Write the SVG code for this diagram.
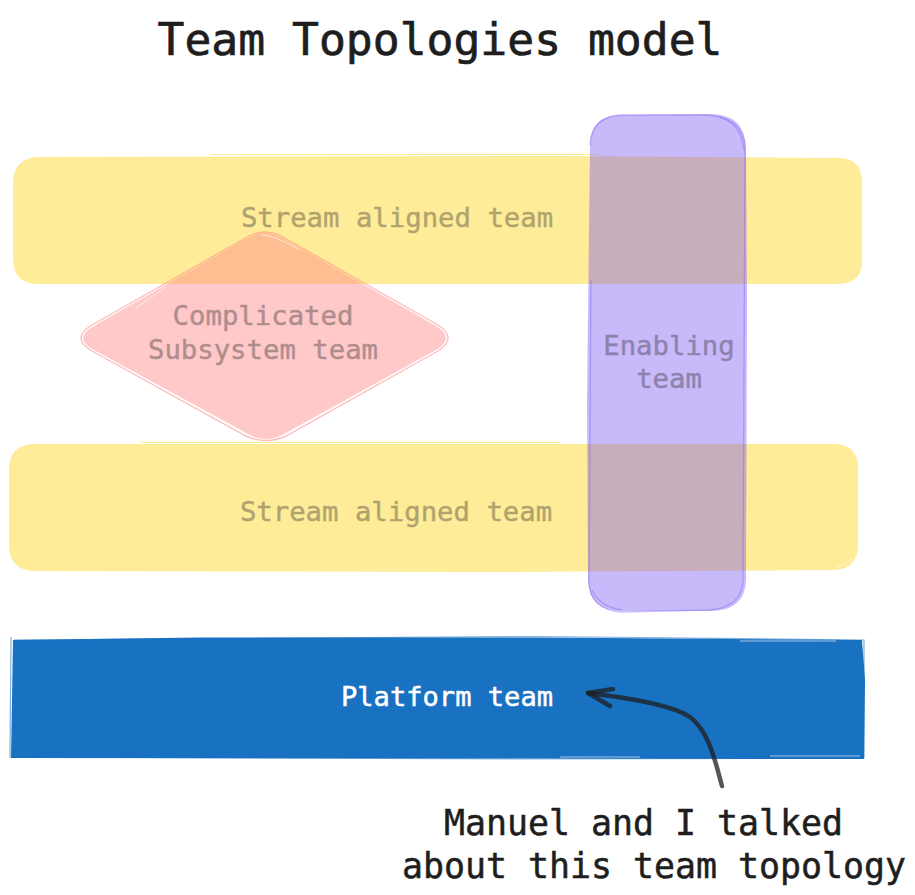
<svg xmlns="http://www.w3.org/2000/svg" width="915" height="895" viewBox="0 0 915 895">
<style>
text{font-family:"DejaVu Sans Mono","Liberation Mono",monospace;text-anchor:middle}
.t{font-size:27.3px;fill:#1e1e1e;opacity:.35;stroke:#1e1e1e;stroke-width:.5}
.y{fill:#ffec99;stroke:none}
.ye{fill:none;stroke:#ffec99;stroke-width:1}
.sc{fill:none;stroke:#fff;stroke-width:1;stroke-opacity:.6}
.p{fill:#ff8787;fill-opacity:.45}
.pe{fill:none;stroke:#ff8787;stroke-opacity:.55;stroke-width:1.4}
.v{fill:#7550f2;fill-opacity:.4}
.ve{fill:none;stroke:#7c5cf0;stroke-opacity:.4;stroke-width:1.3}
.n{font-size:34.9px;fill:#1e1e1e;stroke:#1e1e1e;stroke-width:.5}
</style>
<rect width="915" height="895" fill="#fff"/>
<text x="440" y="55" font-size="44.7" fill="#1e1e1e" stroke="#1e1e1e" stroke-width=".7">Team Topologies model</text>
<g id="stream1">
<path class="y" d="M38 157L560 156L840 158Q862 159 862 182L862 262Q862 284 836 284L38 284Q13 284 13 258L13 182Q14 158 38 157Z"/>
<path class="ye" d="M210 154.500L600 154.500"/>
<text class="t" x="397" y="227">Stream aligned team</text>
</g>
<g id="stream2">
<path class="y" d="M34 444L560 444L835 444Q858 445 858 468L858 545Q858 570 832 570L500 572L34 571Q9 570 9 545L9 468Q10 445 34 444Z"/>
<path class="ye" d="M140 442.500L560 442.500"/>
<path class="sc" d="M836 567Q848 564 852 558"/>
<text class="t" x="396" y="521">Stream aligned team</text>
</g>
<g id="complicated">
<path class="p" d="M264 233Q274 233 286 240L436 326Q456 338 436 350L284 434Q266 444 248 434L94 350Q72 338 94 326L244 240Q256 233 264 233Z"/>
<path class="pe" d="M264 232Q276 232 288 240L438 325Q458 338 438 351L286 436Q266 445 246 436L92 351Q70 338 92 325L242 240Q254 232 264 232Z"/>
<path class="sc" d="M262 235Q274 235 300 250M136 308L166 287"/>
<text class="t" x="263" y="325">Complicated</text>
<text class="t" x="263" y="359">Subsystem team</text>
</g>
<g id="enabling">
<path class="v" d="M620 115L710 114Q745 114 746 148L747 300L746 580Q745 611 710 611L622 611Q589 611 588 580L587 400L590 145Q590 116 620 115Z"/>
<path class="ve" d="M590 145Q592 116 622 115L700 115Q744 115 745 148L743 580Q742 608 708 610L622 612Q590 610 589 582L591 280"/>
<path class="ve" d="M720 117Q741 124 744 150M592 590Q600 607 622 610"/>
<text class="t" x="669" y="355">Enabling</text>
<text class="t" x="669" y="388">team</text>
</g>
<g id="platform">
<path d="M13 640L200 637.500L540 637.500L862 640L865 680L864 759L11 758Z" fill="#1971c2"/>
<path d="M11 637L10 757L520 759L864 758L864 640L540 636.500L14 640" fill="none" stroke="#1971c2" stroke-opacity=".55" stroke-width="1.2"/>
<path class="sc" d="M740 641L836 641M770 756L860 756M560 757L640 757" stroke-opacity=".4"/>
<text x="447" y="706" font-size="27.1" fill="#fff" stroke="#fff" stroke-width=".5">Platform team</text>
</g>
<g id="connectors" fill="none" stroke="#1e1e1e" stroke-opacity=".75" stroke-width="4.500" stroke-linecap="round" stroke-linejoin="round">
<path d="M722 786C716 765 710 732 690 717C674 706 630 698 588 693"/>
<path d="M613 689L588 693L610 706"/>
</g>
<g id="note">
<text class="n" x="643.500" y="835">Manuel and I talked</text>
<text class="n" x="654" y="878">about this team topology</text>
</g>
</svg>
